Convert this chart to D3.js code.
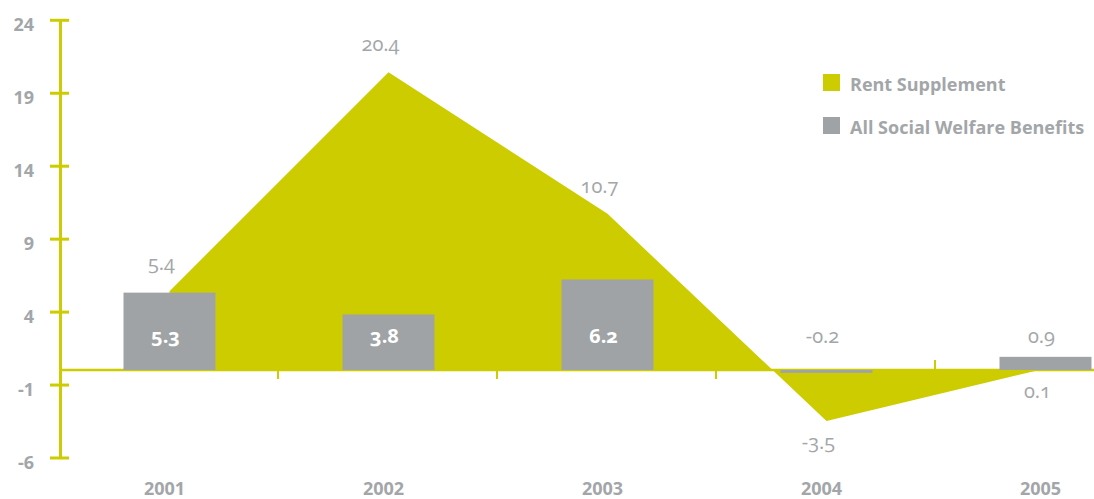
<!DOCTYPE html>
<html>
<head>
<meta charset="utf-8">
<script src="https://cdn.jsdelivr.net/npm/d3@7"></script>
<style>
  html, body { margin: 0; padding: 0; background: #ffffff; }
  svg { display: block; }
  .num { font-family: "Open Sans", sans-serif; font-variant-numeric: oldstyle-nums; font-feature-settings: "onum" 1; }
  .bold { font-family: "Open Sans", sans-serif; font-weight: 700; }
</style>
</head>
<body>
<svg id="chart" width="1094" height="499"></svg>
<script>
// Annual change, % — years and the two series
const years = ["2001", "2002", "2003", "2004", "2005"];
const rentSupplement = [5.4, 20.4, 10.7, -3.5, 0.1];
const allBenefits = [5.3, 3.8, 6.2, -0.2, 0.9];
const yTicks = [24, 19, 14, 9, 4, -1, -6];
const seriesNames = ["Rent Supplement", "All Social Welfare Benefits"];

const W = 1094, H = 499;
const olive = "#cccc00";
const grey = "#a0a3a6";
const textGrey = "#a3a6a9";

// plain hyphen for negatives
const locale = d3.formatLocale({ decimal: ".", thousands: ",", grouping: [3], currency: ["", ""], minus: "-" });
const fmt1 = locale.format(".1f");
const fmtInt = locale.format("d");

const svg = d3.select("#chart");

const x = d3.scaleBand().domain(years).range([60, 1155]).paddingInner(0).paddingOuter(0);
const y = d3.scaleLinear().domain([-6, 24]).range([457.5, 19.8]);
const cx = d => x(d) + x.bandwidth() / 2;
const barW = 92;
const y0 = y(0);

// zero line and category separators
svg.append("line")
  .attr("x1", 60).attr("x2", W).attr("y1", y0).attr("y2", y0)
  .attr("stroke", olive).attr("stroke-width", 2.5);
svg.append("g").selectAll("line")
  .data(years.slice(1))
  .join("line")
  .attr("x1", d => x(d) - 1).attr("x2", d => x(d) - 1)
  .attr("y1", y0 - 10).attr("y2", y0 + 9)
  .attr("stroke", olive).attr("stroke-width", 2);

// Rent Supplement area
const rows = years.map((yr, i) => ({ yr, rent: rentSupplement[i], all: allBenefits[i] }));
const area = d3.area()
  .x(d => cx(d.yr))
  .y0(y0)
  .y1(d => y(d.rent));
svg.append("path").datum(rows).attr("d", area).attr("fill", olive);

// All Social Welfare Benefits bars
svg.append("g").selectAll("rect")
  .data(rows)
  .join("rect")
  .attr("x", d => cx(d.yr) - barW / 2)
  .attr("width", barW)
  .attr("y", d => y(Math.max(0, d.all)))
  .attr("height", d => Math.abs(y(d.all) - y0))
  .attr("fill", grey);

// y axis
const yAxis = d3.axisLeft(y).tickValues(yTicks).tickSize(0).tickPadding(0).tickFormat(fmtInt);
const gy = svg.append("g").attr("transform", "translate(60,0)").call(yAxis);
gy.select(".domain").attr("stroke", olive).attr("stroke-width", 3);
gy.selectAll(".tick line").attr("x1", -10).attr("x2", 9).attr("stroke", olive).attr("stroke-width", 3);
gy.selectAll(".tick text")
  .attr("class", "bold")
  .attr("x", -26).attr("dy", "0.62em")
  .attr("fill", textGrey).attr("font-size", 18).attr("text-anchor", "end");

// year labels
svg.append("g").selectAll("text")
  .data(years)
  .join("text")
  .attr("class", "bold")
  .attr("x", d => cx(d) - 5).attr("y", 495)
  .attr("text-anchor", "middle").attr("font-size", 18).attr("fill", textGrey)
  .text(d => d);

// Rent Supplement value labels: above the point when it tops the bar, below otherwise
svg.append("g").selectAll("text")
  .data(rows)
  .join("text")
  .attr("class", "num")
  .attr("x", d => cx(d.yr) - 8)
  .attr("y", d => d.rent > d.all ? y(d.rent) - 21 : y(Math.min(0, d.rent)) + 28)
  .attr("text-anchor", "middle").attr("font-size", 20).attr("fill", textGrey)
  .text(d => fmt1(d.rent));

// benefit value labels: inside tall bars, above the baseline for short ones
svg.append("g").selectAll("text")
  .data(rows)
  .join("text")
  .attr("class", d => Math.abs(d.all) > 2 ? "num bold" : "num")
  .attr("x", d => cx(d.yr) - 4)
  .attr("y", y0 - 27)
  .attr("text-anchor", "middle").attr("font-size", 20)
  .attr("font-weight", d => Math.abs(d.all) > 2 ? 700 : 400)
  .attr("fill", d => Math.abs(d.all) > 2 ? "#ffffff" : textGrey)
  .text(d => fmt1(d.all));

// legend
const legend = svg.append("g").attr("transform", "translate(823,74)");
const legendColors = [olive, grey];
legend.selectAll("g")
  .data(seriesNames)
  .join("g")
  .attr("transform", (d, i) => `translate(0,${i * 43})`)
  .each(function (d, i) {
    const g = d3.select(this);
    g.append("rect").attr("width", 17).attr("height", 17).attr("fill", legendColors[i]);
    g.append("text").attr("class", "bold")
      .attr("x", 27).attr("y", 16.5)
      .attr("font-size", 18).attr("fill", textGrey)
      .text(d);
  });
</script>
</body>
</html>
